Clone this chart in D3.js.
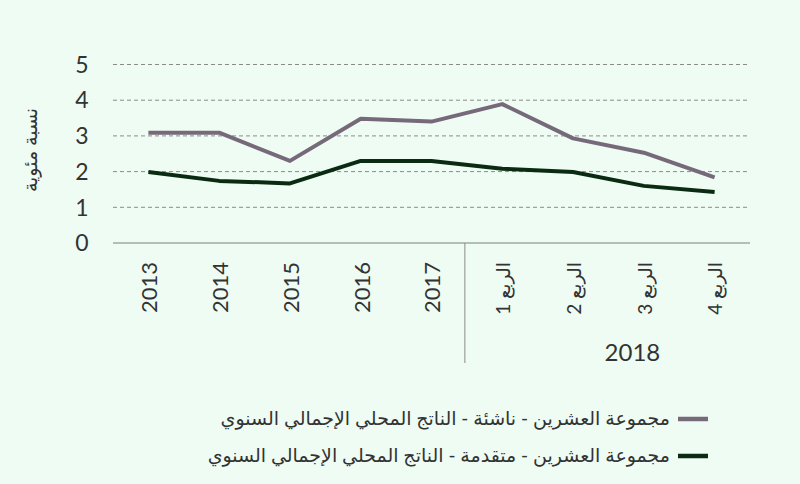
<!DOCTYPE html>
<html><head><meta charset="utf-8">
<script src="https://cdn.jsdelivr.net/npm/d3@7"></script>
<style>
body{margin:0;background:#eefcf3;}
svg{display:block;}
text{font-family:Lato,"DejaVu Sans",sans-serif;fill:#333;}
</style></head><body>
<svg id="c" width="800" height="484"></svg>
<script>
const categories = ["2013","2014","2015","2016","2017","الربع 1","الربع 2","الربع 3","الربع 4"];
const emerging = [3.09,3.09,2.30,3.48,3.40,3.89,2.93,2.53,1.84];
const advanced = [1.99,1.74,1.67,2.30,2.30,2.08,1.99,1.60,1.43];
const yTicks = [0,1,2,3,4,5];
const seriesNames = ["مجموعة العشرين - ناشئة - الناتج المحلي الإجمالي السنوي","مجموعة العشرين - متقدمة - الناتج المحلي الإجمالي السنوي"];
const groupLabel = "2018";
const yTitle = "نسبة مئوية";
const colors = ["#76697a","#0b2a12"];

const W = 800, H = 484;
const svg = d3.select("#c");
svg.append("rect").attr("width",W).attr("height",H).attr("fill","#eefcf3");
const x = d3.scaleBand().domain(categories).range([113,750]);
const y = d3.scaleLinear().domain([0,5]).range([243,64.5]);

// grid
svg.append("g").selectAll("line").data(yTicks.filter(d=>d>0)).join("line")
  .attr("x1",113).attr("x2",750).attr("y1",d=>y(d)).attr("y2",d=>y(d))
  .attr("stroke","#8a8a8a").attr("stroke-width",1).attr("stroke-dasharray","4,3");
// baseline
svg.append("line").attr("x1",113).attr("x2",750).attr("y1",y(0)).attr("y2",y(0))
  .attr("stroke","#a0a8a2").attr("stroke-width",1.5);
// y labels
svg.append("g").selectAll("text").data(yTicks).join("text")
  .attr("x",82).attr("y",d=>y(d)).attr("dy","0.36em").attr("text-anchor","middle")
  .attr("font-size",23).text(d=>d);
svg.append("text").attr("transform","translate(30,150) rotate(-90)")
  .attr("text-anchor","middle").attr("dy","0.35em").attr("font-size",19).text(yTitle);

// x labels
svg.append("g").selectAll("text").data(categories).join("text")
  .attr("transform",d=>`translate(${x(d)+x.bandwidth()/2+1},262) rotate(-90)`)
  .attr("text-anchor",(d,i)=> i>4 ? "start" : "end").attr("dy","0.36em")
  .attr("font-size",(d,i)=> i>4 ? 19 : 22)
  .attr("direction", (d,i)=> i>4 ? "rtl" : "ltr")
  .text(d=>d);
// separator
const sepX = x(categories[5]) - 2;
svg.append("line").attr("x1",sepX).attr("x2",sepX).attr("y1",y(0)).attr("y2",363)
  .attr("stroke","#8a8a8a").attr("stroke-width",1);
svg.append("text").attr("x",(sepX+W)/2)
  .attr("y",353).attr("dy","0.35em").attr("text-anchor","middle").attr("font-size",24).text(groupLabel);

// lines
const line = d3.line().x((d,i)=>x(categories[i])+x.bandwidth()/2).y(d=>y(d));
[emerging,advanced].forEach((s,k)=>{
  svg.append("path").attr("d",line(s)).attr("fill","none")
    .attr("stroke",colors[k]).attr("stroke-width",4).attr("stroke-linejoin","round");
});

// legend
const ly=[419,456];
seriesNames.forEach((n,k)=>{
  svg.append("line").attr("x1",678).attr("x2",708).attr("y1",ly[k]).attr("y2",ly[k])
    .attr("stroke",colors[k]).attr("stroke-width",4.5);
  svg.append("text").attr("x",670).attr("y",ly[k]).attr("dy","0.3em")
    .attr("text-anchor","start").attr("direction","rtl").attr("font-size",19).text(n);
});
</script></body></html>
